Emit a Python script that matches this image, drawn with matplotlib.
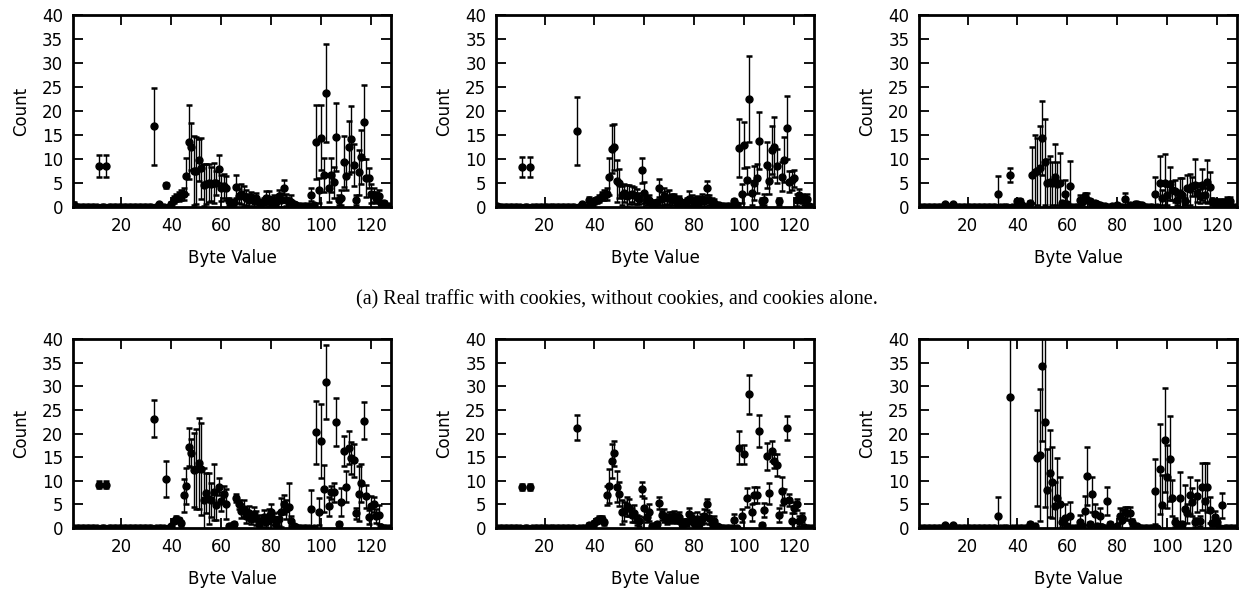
import numpy as np
import matplotlib
matplotlib.use('Agg')
import matplotlib.pyplot as plt

plt.rcParams['font.family'] = 'DejaVu Sans'

# (byte value, mean count, std) -- bytes not listed have a count of 0
real_with_cookies = [
    (1, 0.5, 0.6), (11, 8.5, 2.3), (14, 8.5, 2.3),
    (33, 16.9, 8.0), (35, 0.6, 0.3), (38, 4.6, 0.5), (40, 0.6, 0.4),
    (41, 1.6, 0.7), (42, 2.0, 0.8), (43, 2.2, 0.9), (44, 2.5, 1.0), (45, 2.8, 1.2),
    (46, 6.5, 3.8), (47, 13.6, 7.7), (48, 12.6, 4.9), (49, 7.6, 7.2), (50, 7.6, 7.0),
    (51, 9.9, 4.4), (52, 8.1, 6.3), (53, 4.6, 4.4), (54, 4.8, 4.2), (55, 5.0, 4.0),
    (56, 4.8, 3.5), (57, 5.1, 4.2), (58, 5.0, 2.5), (59, 7.9, 2.9), (60, 4.0, 2.7),
    (61, 4.4, 2.5), (62, 4.0, 2.6), (63, 1.2, 0.8), (64, 0.6, 0.4), (65, 1.0, 0.6),
    (66, 4.3, 2.4), (67, 2.3, 1.5), (68, 2.8, 2.1), (69, 2.3, 2.1), (70, 2.0, 1.6),
    (71, 1.5, 1.2), (72, 2.2, 1.0), (73, 1.2, 0.9), (74, 2.0, 1.0), (75, 1.0, 0.6),
    (76, 0.8, 0.5), (77, 1.2, 0.8), (78, 2.0, 1.4), (79, 1.8, 1.6), (80, 1.2, 0.9),
    (81, 1.5, 1.0), (82, 1.0, 0.8), (83, 2.3, 1.2), (84, 1.5, 1.5), (85, 4.1, 1.6),
    (86, 1.5, 1.2), (87, 1.2, 0.8), (88, 1.0, 1.6), (89, 0.6, 0.4), (90, 0.4, 0.3),
    (91, 0.3, 0.2), (92, 0.2, 0.2), (93, 0.2, 0.1), (94, 0.2, 0.1), (95, 0.3, 0.2),
    (96, 2.6, 1.4), (97, 0.4, 0.3), (98, 13.6, 7.7), (99, 3.5, 2.6), (100, 14.5, 6.8),
    (101, 6.7, 3.6), (102, 23.8, 10.3), (103, 3.9, 2.8), (104, 6.7, 3.6), (105, 5.2, 3.2),
    (106, 14.6, 7.1), (107, 1.5, 1.0), (108, 2.0, 1.5), (109, 9.5, 5.3), (110, 6.5, 3.0),
    (111, 12.5, 5.5), (112, 14.3, 6.9), (113, 8.8, 4.4), (114, 1.5, 1.0), (115, 7.3, 4.7),
    (116, 10.5, 5.7), (117, 17.7, 7.7), (118, 6.1, 4.0), (119, 6.1, 2.0), (120, 2.8, 2.0),
    (121, 2.5, 1.5), (122, 2.0, 1.2), (123, 2.3, 1.2), (124, 0.8, 0.5), (125, 0.8, 0.5),
    (126, 0.3, 0.2), (127, 0.2, 0.1),
]

real_without_cookies = [
    (1, 0.3, 0.3), (11, 8.3, 2.1), (14, 8.3, 2.1),
    (33, 15.9, 7.0), (35, 0.6, 0.3), (38, 1.6, 0.5), (40, 1.2, 0.5),
    (41, 1.5, 0.7), (42, 1.8, 0.8), (43, 2.4, 0.8), (44, 2.6, 1.0), (45, 2.8, 1.2),
    (46, 6.4, 3.8), (47, 12.2, 5.0), (48, 12.6, 4.8), (49, 5.5, 4.4), (50, 5.0, 3.0),
    (51, 2.5, 2.0), (52, 2.9, 1.9), (53, 2.3, 2.3), (54, 2.6, 2.0), (55, 2.8, 1.7),
    (56, 2.5, 1.8), (57, 2.2, 1.5), (58, 1.8, 1.2), (59, 7.7, 2.6), (60, 3.0, 2.2),
    (61, 1.4, 1.0), (62, 1.6, 1.0), (63, 0.8, 0.6), (64, 0.6, 0.4), (65, 1.0, 0.6),
    (66, 4.0, 1.9), (67, 1.8, 1.4), (68, 2.3, 1.8), (69, 2.0, 1.4), (70, 2.0, 1.5),
    (71, 1.6, 1.1), (72, 2.0, 0.8), (73, 1.1, 0.8), (74, 1.6, 0.8), (75, 0.9, 0.5),
    (76, 0.8, 0.5), (77, 1.2, 0.8), (78, 1.8, 1.5), (79, 1.5, 1.0), (80, 1.1, 0.8),
    (81, 1.4, 0.9), (82, 1.0, 0.7), (83, 1.8, 0.9), (84, 1.2, 1.0), (85, 4.0, 1.4),
    (86, 1.5, 1.0), (87, 1.0, 0.9), (88, 0.8, 1.0), (89, 0.5, 0.3), (90, 0.4, 0.3),
    (91, 0.3, 0.2), (92, 0.2, 0.1), (93, 0.2, 0.1), (94, 0.2, 0.1), (95, 0.2, 0.1),
    (96, 1.2, 0.5), (97, 0.4, 0.3), (98, 12.3, 6.0), (99, 2.8, 2.0), (100, 13.0, 4.8),
    (101, 5.6, 2.8), (102, 22.6, 9.0), (103, 3.0, 2.5), (104, 5.0, 3.5), (105, 6.0, 3.0),
    (106, 13.9, 6.0), (107, 1.2, 0.8), (108, 1.6, 1.2), (109, 8.8, 4.8), (110, 5.4, 2.6),
    (111, 11.9, 5.0), (112, 12.6, 6.3), (113, 8.6, 3.5), (114, 1.2, 0.8), (115, 6.4, 3.0),
    (116, 9.9, 4.7), (117, 16.6, 6.6), (118, 5.3, 2.2), (119, 5.6, 2.0), (120, 6.0, 1.8),
    (121, 1.5, 1.2), (122, 2.5, 1.3), (123, 1.8, 1.0), (124, 1.5, 1.0), (125, 1.8, 1.0),
    (126, 0.3, 0.2),
]

real_cookies_only = [
    (11, 0.6, 0.1), (14, 0.6, 0.1),
    (32, 2.8, 3.7), (37, 6.7, 1.5), (40, 1.2, 0.6), (41, 1.2, 0.5), (42, 0.4, 0.3),
    (45, 0.8, 0.4), (46, 6.7, 5.9), (47, 7.3, 7.7), (48, 7.5, 7.0), (49, 8.2, 8.7),
    (50, 14.5, 7.7), (51, 9.4, 8.9), (52, 5.0, 5.0), (53, 5.3, 5.4), (54, 5.0, 4.5),
    (55, 6.3, 6.8), (56, 4.9, 4.5), (57, 5.1, 6.1), (58, 0.8, 0.5), (59, 2.8, 2.8),
    (60, 0.6, 0.4), (61, 4.5, 5.1),
    (65, 1.6, 1.0), (66, 1.0, 0.6), (67, 2.3, 0.7), (68, 1.5, 1.5), (69, 1.2, 0.6),
    (70, 0.6, 0.3), (71, 0.8, 0.4), (72, 0.6, 0.3), (73, 0.4, 0.2), (74, 0.3, 0.2),
    (75, 0.3, 0.2), (78, 0.3, 0.2), (80, 0.5, 0.3), (83, 1.7, 1.2), (85, 0.4, 0.2),
    (87, 0.6, 0.3), (88, 0.7, 0.3), (89, 0.5, 0.3), (90, 0.4, 0.2),
    (95, 2.8, 3.5), (97, 5.0, 5.7), (98, 2.0, 1.5), (99, 5.0, 6.0), (100, 2.5, 2.0),
    (101, 4.9, 3.5), (102, 3.5, 2.0), (103, 3.3, 2.3), (104, 1.5, 1.0), (105, 3.0, 3.0),
    (106, 2.6, 3.4), (107, 1.2, 0.8), (108, 4.0, 2.8), (109, 3.7, 3.3), (110, 4.4, 2.0),
    (111, 4.7, 5.3), (112, 3.0, 2.0), (113, 2.3, 1.5), (114, 4.7, 3.2), (115, 2.6, 1.5),
    (116, 5.3, 4.5), (117, 4.2, 3.2), (118, 1.2, 0.8), (119, 0.8, 0.6), (120, 1.0, 0.8),
    (121, 0.8, 0.5), (122, 1.0, 0.7), (123, 0.8, 0.5), (124, 1.2, 1.0), (125, 1.2, 1.0),
]

gen_with_cookies = [
    (11, 9.2, 0.7), (14, 9.2, 0.7),
    (33, 23.2, 4.0), (38, 10.4, 3.8),
    (40, 0.4, 0.2), (41, 1.5, 0.5), (42, 2.0, 0.5), (43, 1.7, 0.5), (44, 1.0, 0.5),
    (45, 6.9, 3.4), (46, 9.0, 3.8), (47, 17.2, 4.0), (48, 15.9, 3.0), (49, 12.3, 7.8),
    (50, 12.5, 8.5), (51, 13.7, 9.7), (52, 12.5, 9.7), (53, 6.0, 6.7), (54, 7.4, 4.3),
    (55, 6.2, 5.4), (56, 6.0, 3.6), (57, 7.6, 5.9), (58, 4.8, 3.0), (59, 8.8, 1.8),
    (60, 5.7, 2.0), (61, 7.2, 1.8), (62, 5.1, 3.2), (63, 0.5, 0.3), (64, 0.4, 0.3),
    (65, 0.8, 0.4), (66, 6.4, 0.8), (67, 5.0, 1.0), (68, 3.6, 1.5), (69, 4.1, 1.8),
    (70, 2.5, 1.5), (71, 3.2, 1.4), (72, 2.0, 1.2), (73, 3.0, 1.5), (74, 2.2, 1.5),
    (75, 0.8, 0.5), (76, 1.5, 1.2), (77, 2.3, 1.5), (78, 1.2, 1.0), (79, 2.5, 1.5),
    (80, 3.3, 1.9), (81, 1.9, 1.2), (82, 0.8, 0.6), (83, 2.0, 1.5), (84, 3.3, 3.0),
    (85, 5.0, 2.0), (86, 4.0, 2.0), (87, 4.4, 5.2), (88, 1.5, 1.0), (89, 0.4, 0.3),
    (90, 0.3, 0.2), (96, 4.0, 4.0), (98, 20.3, 6.7), (99, 3.5, 2.8), (100, 18.5, 7.8),
    (101, 8.3, 5.0), (102, 31.0, 7.8), (103, 4.6, 2.0), (104, 7.6, 1.4), (105, 7.6, 2.0),
    (106, 22.4, 5.1), (107, 0.8, 0.5), (108, 5.5, 3.0), (109, 16.3, 3.1), (110, 8.8, 3.2),
    (111, 17.0, 3.5), (112, 14.9, 3.4), (113, 14.4, 3.5), (114, 3.1, 1.2), (115, 7.3, 5.8),
    (116, 9.5, 4.0), (117, 22.7, 3.9), (118, 6.7, 2.5), (119, 2.4, 1.5), (120, 4.7, 2.0),
    (121, 5.0, 1.5), (122, 2.5, 1.5), (123, 2.8, 2.0), (124, 0.3, 0.2),
]

gen_without_cookies = [
    (11, 8.7, 0.7), (14, 8.7, 0.7),
    (33, 21.3, 2.7), (38, 0.7, 0.3),
    (40, 1.0, 0.5), (41, 1.6, 0.5), (42, 2.0, 0.5), (43, 2.0, 0.5), (44, 1.2, 0.5),
    (45, 6.9, 2.0), (46, 9.0, 3.6), (47, 14.2, 3.6), (48, 15.8, 2.6), (49, 8.8, 3.3),
    (50, 7.2, 2.5), (51, 3.4, 2.5), (52, 3.6, 2.0), (53, 4.6, 2.0), (54, 4.3, 1.8),
    (55, 2.7, 1.5), (56, 3.1, 1.8), (57, 1.7, 1.0), (58, 1.5, 1.0), (59, 8.3, 1.5),
    (60, 4.3, 2.0), (61, 2.4, 1.2), (62, 3.3, 1.8), (63, 0.5, 0.3), (64, 0.4, 0.3),
    (65, 0.8, 0.5), (66, 5.3, 1.3), (67, 2.7, 1.0), (68, 2.6, 1.4), (69, 1.8, 1.0),
    (70, 2.4, 1.0), (71, 2.2, 1.2), (72, 2.5, 1.2), (73, 2.0, 1.0), (74, 2.3, 1.2),
    (75, 0.8, 0.5), (76, 1.2, 0.8), (77, 1.2, 0.8), (78, 2.9, 1.4), (79, 2.1, 1.0),
    (80, 1.0, 0.6), (81, 2.0, 1.5), (82, 0.8, 0.5), (83, 1.9, 1.0), (84, 2.6, 1.5),
    (85, 5.0, 1.2), (86, 2.2, 1.3), (87, 1.0, 0.8), (88, 1.5, 1.0), (89, 0.4, 0.3),
    (90, 0.3, 0.2), (96, 1.7, 1.3), (98, 17.0, 3.5), (99, 2.6, 1.4), (100, 15.6, 2.0),
    (101, 6.4, 2.0), (102, 28.3, 4.2), (103, 3.3, 1.8), (104, 7.0, 1.6), (105, 7.1, 1.7),
    (106, 20.6, 3.4), (107, 0.7, 0.4), (108, 3.8, 1.5), (109, 15.2, 2.8), (110, 7.4, 2.2),
    (111, 16.3, 2.2), (112, 14.2, 1.5), (113, 13.3, 2.3), (114, 2.7, 1.5), (115, 7.9, 3.0),
    (116, 5.8, 2.5), (117, 21.2, 2.5), (118, 6.0, 1.3), (119, 1.5, 1.7), (120, 4.3, 1.2),
    (121, 5.0, 1.2), (122, 1.5, 1.0), (123, 2.2, 1.0), (124, 0.3, 0.2),
]

gen_cookies_only = [
    (11, 0.6, 0.2), (14, 0.6, 0.2),
    (32, 2.6, 4.0), (37, 27.8, 40.0), (45, 0.8, 0.4), (46, 0.3, 0.2), (47, 0.5, 0.3),
    (48, 14.9, 10.2), (49, 15.4, 14.0), (50, 34.4, 16.0), (51, 22.4, 18.0),
    (52, 8.1, 8.7), (53, 11.6, 9.2), (54, 9.7, 7.5), (55, 4.7, 5.0), (56, 6.4, 8.5),
    (57, 5.0, 5.8), (58, 1.2, 1.0), (59, 2.2, 3.0), (60, 0.5, 0.4), (61, 2.6, 3.0),
    (65, 1.2, 1.5), (66, 0.5, 0.3), (67, 3.7, 3.0), (68, 11.0, 6.1), (69, 0.8, 0.5),
    (70, 7.2, 3.7), (71, 2.9, 2.3), (72, 0.5, 0.4), (73, 2.6, 1.7), (74, 0.3, 0.2),
    (76, 5.7, 2.9), (77, 0.8, 0.5), (80, 0.4, 0.3), (81, 2.6, 1.6), (82, 1.7, 2.2),
    (83, 3.3, 1.2), (84, 3.1, 1.4), (85, 3.1, 1.4), (86, 1.2, 0.8), (87, 0.5, 0.3),
    (88, 0.4, 0.3), (95, 7.8, 6.9), (97, 12.5, 9.6), (98, 4.8, 6.5), (99, 18.7, 11.0),
    (100, 10.9, 6.7), (101, 14.7, 9.0), (102, 6.4, 3.8), (103, 1.2, 1.0), (104, 0.8, 0.5),
    (105, 6.4, 5.4), (106, 0.8, 0.5), (107, 4.1, 5.0), (108, 3.1, 2.0), (109, 6.9, 3.9),
    (110, 5.5, 3.0), (111, 1.2, 1.0), (112, 6.7, 3.4), (113, 1.5, 1.0), (114, 8.8, 4.9),
    (115, 5.7, 8.0), (116, 8.6, 5.1), (117, 3.8, 2.7), (118, 1.0, 0.6), (119, 2.4, 1.3),
    (120, 1.2, 0.8), (122, 4.8, 2.6),
]

byte_values = np.arange(1, 128)
caption_a = '(a) Real traffic with cookies, without cookies, and cookies alone.'


def full_series(rows):
    mean = np.zeros(len(byte_values))
    err = np.zeros(len(byte_values))
    for b, m, s in rows:
        mean[b - 1] = m
        err[b - 1] = s
    return mean, err


def draw(ax, rows):
    mean, err = full_series(rows)
    ax.errorbar(byte_values, mean, yerr=err, fmt='o', color='k', ecolor='k',
                ms=5, elinewidth=1.0, capsize=2.5, capthick=1.8)
    ax.set_xlim(0.6, 128)
    ax.set_ylim(0, 40)
    ax.set_xticks([20, 40, 60, 80, 100, 120])
    ax.set_yticks(range(0, 41, 5))
    ax.tick_params(direction='in', top=True, right=True, length=7, width=1.3,
                   pad=7, labelsize=12)
    for s in ax.spines.values():
        s.set_linewidth(2.0)
    ax.set_xlabel('Byte Value', fontsize=12, labelpad=10)
    ax.set_ylabel('Count', fontsize=12, labelpad=9)


fig = plt.figure(figsize=(12.42, 5.92), dpi=100)
lefts = [0.0588, 0.3994, 0.740]
panels = [
    [real_with_cookies, real_without_cookies, real_cookies_only],
    [gen_with_cookies, gen_without_cookies, gen_cookies_only],
]
bottoms = [0.650, 0.108]
heights = [0.324, 0.319]
for row, rows_list in enumerate(panels):
    for col, rows in enumerate(rows_list):
        ax = fig.add_axes([lefts[col], bottoms[row], 0.2562, heights[row]])
        draw(ax, rows)

fig.text(0.497, 0.493, caption_a, ha='center', va='center',
         fontsize=14.5, family='Liberation Serif')

fig.savefig('out.png', dpi=100)
